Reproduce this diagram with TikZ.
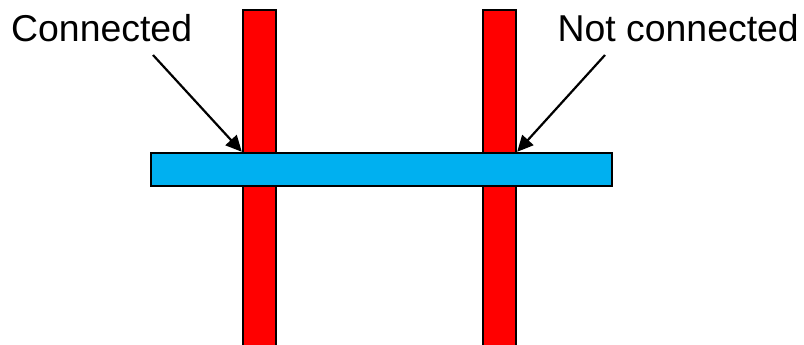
\documentclass[tikz,border=0pt]{standalone}
\usepackage{fontspec}
\setmainfont{Liberation Sans}
\usetikzlibrary{arrows.meta}
\tikzset{
  bar/.style={draw=black,line width=2.4pt,inner sep=0pt},
  pointer/.style={line width=2.2pt,-{Triangle[length=16pt,width=15pt]}},
  lbl/.style={font=\fontsize{37.4}{40}\selectfont,inner sep=0pt}
}
\begin{document}
\begin{tikzpicture}[x=1pt,y=-1pt]
  \clip (0,0) rectangle (804,345);
  % vertical wires
  \node[bar,fill=red,minimum width=33pt,minimum height=350pt] (lwire) at (259.5,185) {};
  \node[bar,fill=red,minimum width=33pt,minimum height=350pt] (rwire) at (499.5,185) {};
  % horizontal wire
  \node[bar,fill={rgb,255:red,0;green,176;blue,240},minimum width=461pt,minimum height=33pt] (hwire) at (381.5,169.5) {};
  % labels
  \node[lbl,anchor=west] (conn) at (11,28) {Connected};
  \node[lbl,anchor=east] (nconn) at (799,28) {Not connected};
  \coordinate (cstart) at (153,55);
  \coordinate (nstart) at (605,55);
  \draw[pointer] (cstart) -- (lwire.west |- hwire.north);
  \draw[pointer] (nstart) -- (rwire.east |- hwire.north);
\end{tikzpicture}
\end{document}
